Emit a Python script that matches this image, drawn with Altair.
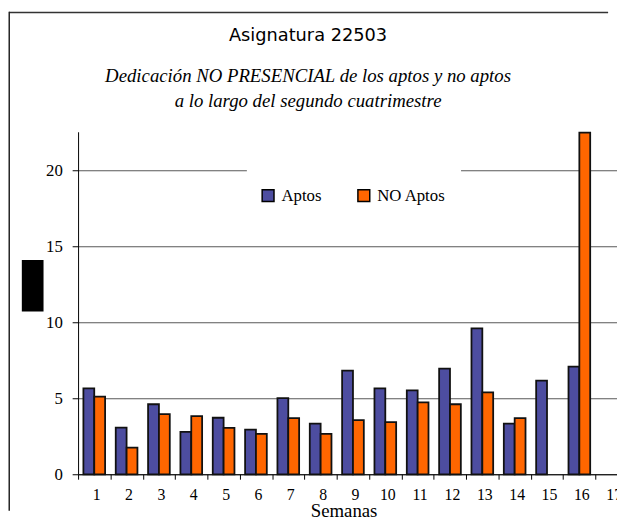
import altair as alt
import pandas as pd

# ---- data ----
semanas = ["1", "2", "3", "4", "5", "6", "7", "8", "9", "10", "11", "12", "13", "14", "15", "16", "17"]
aptos = [5.65, 3.07, 4.61, 2.79, 3.72, 2.94, 5.02, 3.33, 6.82, 5.65, 5.52, 6.95, 9.61, 3.33, 6.17, 7.08, None]
no_aptos = [5.11, 1.75, 3.96, 3.83, 3.05, 2.66, 3.70, 2.66, 3.57, 3.44, 4.74, 4.61, 5.39, 3.70, None, 22.5, None]
series = ["Aptos", "NO Aptos"]
colores = ["#4D4DA0", "#FF6600"]
y_ticks = [0, 5, 10, 15, 20]
titulo = "Asignatura 22503"
subtitulo = ["Dedicación NO PRESENCIAL de los aptos y no aptos",
             "a lo largo del segundo cuatrimestre"]
eje_x = "Semanas"

rows = []
for s, a, n in zip(semanas, aptos, no_aptos):
    if a is not None:
        rows.append({"Semana": s, "Serie": series[0], "Horas": a})
    if n is not None:
        rows.append({"Semana": s, "Serie": series[1], "Horas": n})
df = pd.DataFrame(rows)

W, H = 546, 347
SERIF = "Liberation Serif"

bars = alt.Chart(df).mark_bar(stroke="#111111", strokeWidth=1.8).encode(
    x=alt.X("Semana:N", sort=semanas,
            scale=alt.Scale(domain=semanas, range=[0, 557], paddingInner=0, paddingOuter=0),
            axis=alt.Axis(title=eje_x, labelAngle=0, tickBand="extent", grid=False,
                          labelFont=SERIF, labelFontSize=16, labelPadding=8, labelOffset=2,
                          tickSize=5, titleFont=SERIF, titleFontSize=19, titleFontWeight="normal",
                          titleX=269, titleY=43, titleBaseline="alphabetic", titleColor="black")),
    xOffset=alt.XOffset("Serie:N", sort=series,
                        scale=alt.Scale(domain=series, paddingInner=0, paddingOuter=0.49)),
    y=alt.Y("Horas:Q", scale=alt.Scale(domain=[0, 22.55], nice=False, zero=True),
            axis=alt.Axis(title=None, values=y_ticks, grid=True, gridColor="#555555", gridWidth=1,
                          labelFont=SERIF, labelFontSize=17, labelPadding=10, tickSize=6)),
    fill=alt.Fill("Serie:N", scale=alt.Scale(domain=series, range=colores),
                  legend=alt.Legend(orient="none", legendX=184, legendY=56, direction="horizontal",
                                    title=None, symbolType="square", symbolSize=144,
                                    symbolStrokeColor="black", symbolStrokeWidth=1.5,
                                    labelFont=SERIF, labelFontSize=17, labelOffset=5,
                                    columnPadding=33, padding=0, labelColor="black")),
)

one = pd.DataFrame({"d": [0]})

# frame lines kept inside the drawing area
top_line = alt.Chart(one).mark_rect(fill="#333333").encode(
    x=alt.value(-70), x2=alt.value(537), y=alt.value(-121.5), y2=alt.value(-120))
left_line = alt.Chart(one).mark_rect(fill="#222222").encode(
    x=alt.value(-70.5), x2=alt.value(-69), y=alt.value(-121.5), y2=alt.value(384))

mask = alt.Chart(one).mark_rect(fill="white").encode(
    x=alt.value(171), x2=alt.value(388), y=alt.value(20), y2=alt.value(105))

ybox = alt.Chart(one).mark_rect(fill="black").encode(
    x=alt.value(-57), x2=alt.value(-35), y=alt.value(130), y2=alt.value(182))


def txt(text, x, y, font, size, style="normal", weight="normal"):
    return alt.Chart(pd.DataFrame({"t": [text]})).mark_text(
        font=font, fontSize=size, fontStyle=style, fontWeight=weight, align="center",
        baseline="alphabetic", color="black").encode(text="t:N", x=alt.value(x), y=alt.value(y))


t0 = txt(titulo, 233, -92, "DejaVu Sans", 18)
t1 = txt(subtitulo[0], 233, -50, SERIF, 19, "italic")
t2 = txt(subtitulo[1], 233, -25, SERIF, 19, "italic")

chart = alt.layer(top_line, left_line, mask, bars, ybox, t0, t1, t2).properties(
    width=W, height=H,
    autosize=alt.AutoSizeParams(type="none"),
    padding={"left": 71, "top": 122, "right": 0, "bottom": 47},
    background="white",
).configure_view(stroke=None).configure_axis(
    domainColor="black", tickColor="black", labelColor="black", domainWidth=1, tickWidth=1
)

chart.save("out.html", embed_options={"renderer": "svg", "actions": False})
